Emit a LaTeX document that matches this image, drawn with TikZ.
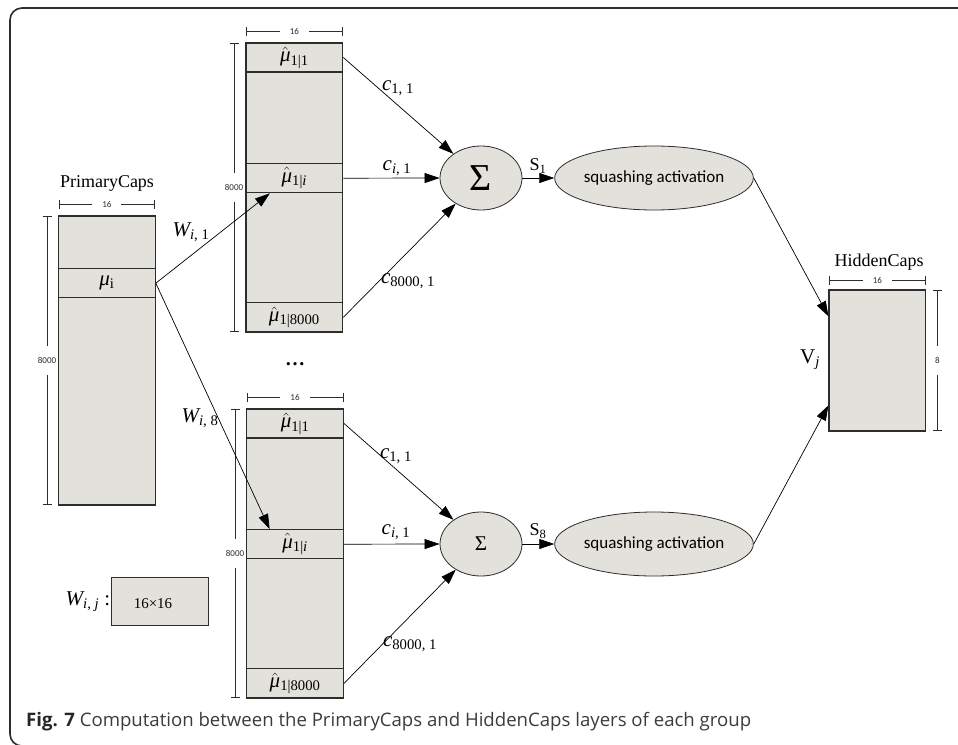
\documentclass[tikz,border=0pt]{standalone}
\usepackage{fontspec}
\setmainfont{Liberation Serif}
\newfontfamily\calib{Carlito}
\newfontfamily\capfont{Open Sans}
\usetikzlibrary{arrows.meta,shapes.geometric,calc}
\definecolor{boxfill}{RGB}{227,225,219}
\definecolor{edgec}{RGB}{45,45,45}
\definecolor{capgray}{RGB}{60,60,60}
\newcommand{\muhat}[1]{$\hat{\hbox{\itshape μ}}$\textsubscript{#1}}
\tikzset{
  cell/.style={draw=edgec, fill=boxfill, line width=1.2pt, inner sep=0pt, minimum width=96.7pt},
  ell/.style={ellipse, draw=edgec, fill=boxfill, line width=0.8pt, inner sep=0pt},
  arr/.style={-{Triangle[length=15pt,width=10pt]}, line width=0.7pt, black},
  dimline/.style={{Bar[width=9pt]}-{Bar[width=9pt]}, line width=0.8pt, edgec},
  hlab/.style={fill=white, inner xsep=10pt, inner ysep=1pt, font=\calib\fontsize{9}{9}\selectfont, text=edgec},
  vlab/.style={fill=white, inner xsep=1pt, inner ysep=11pt, font=\calib\fontsize{9}{9}\selectfont, text=edgec},
  lab/.style={inner sep=0pt, font=\fontsize{21}{22}\selectfont},
  rowlab/.style={font=\fontsize{21}{22}\selectfont},
  title/.style={inner sep=0pt, font=\fontsize{18}{20}\selectfont}
}
\begin{document}
\begin{tikzpicture}[x=1pt,y=-1pt]
\clip (0,0) rectangle (958,744);
\fill[white] (0,0) rectangle (958,744);
% frame
\draw[line width=1.6pt, edgec, rounded corners=12pt] (10,8) rectangle (990,746);

% PrimaryCaps
\node[title] (pclab) at (107,183) {PrimaryCaps};
\node[cell, minimum height=289pt] (pc) at (106.85,360.5) {};
\node[cell, minimum height=29pt, rowlab] (mui) at (106.85,283.2) {{\itshape μ}\textsubscript{i}};
\draw[dimline] (58.7,204) -- (155,204) node[midway, hlab] (pcw) {16};
\draw[dimline] (47,216) -- (47,505) node[midway, vlab] (pch) {8000};

% upper column
\node[cell, minimum height=289pt] (ucol) at (294.35,187.5) {};
\node[cell, minimum height=29pt, rowlab] (utop) at (294.35,57.5) {\muhat{1|1}};
\node[cell, minimum height=29pt, rowlab] (umid) at (294.35,178.2) {\muhat{1|\itshape i}};
\node[cell, minimum height=29pt, rowlab] (ubot) at (294.35,317.3) {\muhat{1|8000}};
\draw[dimline] (246,31) -- (342.7,31) node[midway, hlab] (uw) {16};
\draw[dimline] (234,43) -- (234,332) node[midway, vlab] (uh) {8000};

% lower column
\node[cell, minimum height=289pt] (lcol) at (295.1,553.5) {};
\node[cell, minimum height=29pt, rowlab] (ltop) at (295.1,423.5) {\muhat{1|1}};
\node[cell, minimum height=29pt, rowlab] (lmid) at (295.1,544.2) {\muhat{1|\itshape i}};
\node[cell, minimum height=29pt, rowlab] (lbot) at (295.1,683.3) {\muhat{1|8000}};
\draw[dimline] (246.5,397) -- (343.5,397) node[midway, hlab] (lw) {16};
\draw[dimline] (235,409) -- (235,698) node[midway, vlab] (lh) {8000};

\node[inner sep=0pt, font=\bfseries\fontsize{20}{20}\selectfont] (dots) at (295,364) {…};

% sums
\node[ell, minimum width=82pt, minimum height=64pt, font=\fontsize{38}{38}\selectfont] (sig1) at (481,178) {Σ};
\node[ell, minimum width=82pt, minimum height=64pt, font=\fontsize{21}{21}\selectfont] (sig2) at (481,544) {Σ};

% squashing
\node[ell, minimum width=169pt, minimum height=64pt, font=\calib\fontsize{17}{17}\selectfont] (sq1) at (654,178) {squashing activation};
\node[ell, minimum width=169pt, minimum height=64pt, font=\calib\fontsize{17}{17}\selectfont] (sq2) at (654,544) {squashing activation};

% HiddenCaps
\node[title] (hclab) at (879,262) {HiddenCaps};
\node[cell, minimum height=141pt] (hid) at (877.35,360.5) {};
\draw[dimline] (829,280) -- (925.7,280) node[midway, hlab] (hw) {16};
\draw[dimline] (937.5,290) -- (937.5,431) node[midway, vlab] (hh) {8};
\node[lab] (vj) at (810,360) {V\textsubscript{\itshape j}};

% W box
\node[cell, minimum width=97pt, minimum height=48.4pt] (wbox) at (159.8,601.5) {};
\node[inner sep=0pt, font=\fontsize{15}{15}\selectfont] (wtxt) at (153,604) {16×16};
\node[lab] (wij) at (88,602) {{\itshape W}\textsubscript{\itshape i\upshape , \itshape j} :};

% arrows from mu_i
\coordinate (ua) at ($(umid.south west)!0.25!(umid.south east)$);
\coordinate (la) at ($(lmid.north west)!0.24!(lmid.north east)$);
\draw[arr] (mui.east) -- (ua);
\draw[arr] (mui.east) -- (la);
\node[lab] (wi1) at (191,232) {{\itshape W}\textsubscript{\itshape i\upshape , 1}};
\node[lab] (wi8) at (200,418) {{\itshape W}\textsubscript{\itshape i\upshape , 8}};

% c arrows upper
\draw[arr] (utop.east) -- (sig1);
\draw[arr] (umid.east) -- (sig1.west);
\draw[arr] (ubot.east) -- (sig1);
\node[lab] (c11a) at (398,88) {{\itshape c}\textsubscript{1, 1}};
\node[lab] (ci1a) at (397,168) {{\itshape c}\textsubscript{\itshape i\upshape , 1}};
\node[lab] (c80a) at (408,281) {{\itshape c}\textsubscript{8000, 1}};

% c arrows lower
\draw[arr] (ltop.east) -- (sig2);
\draw[arr] (lmid.east) -- (sig2.west);
\draw[arr] (lbot.east) -- (sig2);
\node[lab] (c11b) at (396,456) {{\itshape c}\textsubscript{1, 1}};
\node[lab] (ci1b) at (396,532) {{\itshape c}\textsubscript{\itshape i\upshape , 1}};
\node[lab] (c80b) at (410,644) {{\itshape c}\textsubscript{8000, 1}};

% S arrows
\draw[arr] (sig1.east) -- (sq1.west);
\draw[arr] (sig2.east) -- (sq2.west);
\node[lab, font=\fontsize{18}{20}\selectfont] (s1) at (538,166) {S\textsubscript{1}};
\node[lab, font=\fontsize{18}{20}\selectfont] (s8) at (538,531) {S\textsubscript{8}};

% to HiddenCaps
\coordinate (h1) at ($(hid.north west)!0.189!(hid.south west)$);
\coordinate (h2) at ($(hid.north west)!0.816!(hid.south west)$);
\draw[arr] (sq1.east) -- (h1);
\draw[arr] (sq2.east) -- (h2);

% caption
\node[anchor=west, inner sep=0pt, font=\capfont\fontsize{18.6}{21}\selectfont, text=capgray] (cap) at (26,722) {{\bfseries\color{black!85}Fig. 7} Computation between the PrimaryCaps and HiddenCaps layers of each group};
\end{tikzpicture}
\end{document}
